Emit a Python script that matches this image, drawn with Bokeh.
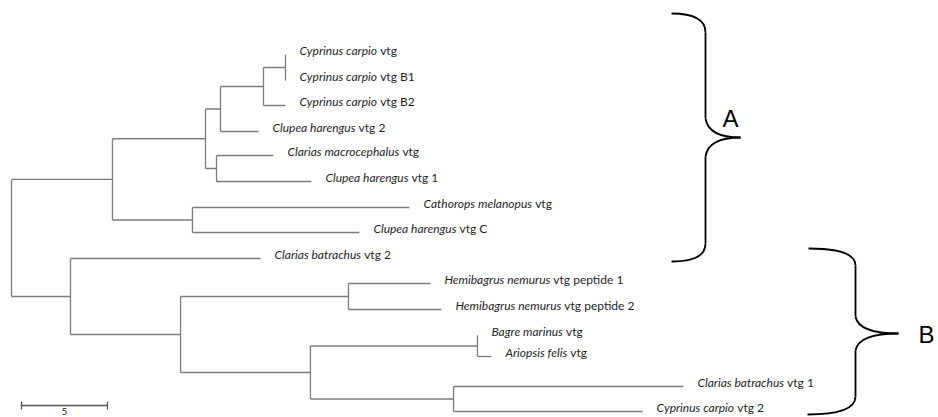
import glob
import subprocess
from bokeh.plotting import figure
from bokeh.models import Range1d, ColumnDataSource
from bokeh.core.properties import value
from bokeh.embed import file_html
from bokeh.resources import INLINE

# ---------------- data ----------------
# internal nodes: name, parent, branch length (distance units)
internal_name = ["A", "B", "A1", "A2", "A1a", "A1b", "Cyp", "Cyp12", "B2", "Hemi", "B3", "BA", "B4"]
internal_parent = ["root", "root", "A", "A", "A1", "A1", "A1a", "Cyp", "B", "B2", "B2", "B3", "B3"]
internal_length = [5.87, 3.43, 5.41, 4.65, 0.87, 0.64, 2.50, 1.28, 6.40, 9.76, 7.55, 9.71, 8.32]

# leaves (top to bottom)
leaf_species = ["Cyprinus carpio", "Cyprinus carpio", "Cyprinus carpio", "Clupea harengus",
                "Clarias macrocephalus", "Clupea harengus", "Cathorops melanopus", "Clupea harengus",
                "Clarias batrachus", "Hemibagrus nemurus", "Hemibagrus nemurus", "Bagre marinus",
                "Ariopsis felis", "Clarias batrachus", "Cyprinus carpio"]
leaf_suffix = ["vtg", "vtg B1", "vtg B2", "vtg 2", "vtg", "vtg 1", "vtg", "vtg C", "vtg 2",
               "vtg peptide 1", "vtg peptide 2", "vtg", "vtg", "vtg 1", "vtg 2"]
leaf_parent = ["Cyp12", "Cyp12", "Cyp", "A1a", "A1b", "A1b", "A2", "A2", "B",
               "Hemi", "Hemi", "BA", "BA", "B4", "B4"]
leaf_length = [0.0, 0.0, 1.28, 2.21, 3.31, 5.52, 12.62, 9.71, 11.05, 4.77, 5.41, 0.0, 0.81, 13.37, 10.99]
leaf_row = [54, 80, 105, 131, 155, 181, 207, 232, 258, 283, 309, 335, 356, 386, 411]

scale_length = 5
scale_label = "5"
clade_labels = ["A", "B"]

# ---------------- layout helpers ----------------
PX_PER_UNIT = 17.2
X0_PX = 11.0


def px2x(px):
    return (px - X0_PX) / PX_PER_UNIT


# ---------------- build tree geometry ----------------
parent = {}
length = {}
for n, pa, l in zip(internal_name, internal_parent, internal_length):
    parent[n] = pa
    length[n] = l
leaf_ids = ["leaf%d" % i for i in range(len(leaf_species))]
for n, pa, l in zip(leaf_ids, leaf_parent, leaf_length):
    parent[n] = pa
    length[n] = l

children = {}
for n, pa in parent.items():
    children.setdefault(pa, []).append(n)

xpos = {"root": 0.0}


def depth(n):
    if n in xpos:
        return xpos[n]
    xpos[n] = depth(parent[n]) + length[n]
    return xpos[n]


for n in parent:
    depth(n)

ypos = {}
for n, r in zip(leaf_ids, leaf_row):
    ypos[n] = r


def ycoord(n):
    if n in ypos:
        return ypos[n]
    ys = [ycoord(c) for c in children[n]]
    ypos[n] = (min(ys) + max(ys)) / 2.0
    return ypos[n]


ycoord("root")

hx0, hx1, hy = [], [], []
for n, pa in parent.items():
    hx0.append(xpos[pa]); hx1.append(xpos[n]); hy.append(ypos[n])
vx, vy0, vy1 = [], [], []
for n, ch in children.items():
    ys = [ypos[c] for c in ch]
    vx.append(xpos[n]); vy0.append(min(ys)); vy1.append(max(ys))

# ---------------- text width measurement ----------------
FONT = "Lato"
FSIZE = 12


def find_font_file(query, names):
    try:
        out = subprocess.run(["fc-match", "-f", "%{file}", query], capture_output=True, text=True, timeout=5).stdout
        if out and any(k.lower() in out.lower() for k in names):
            return out
    except Exception:
        pass
    for nm in names:
        hits = glob.glob("/usr/share/fonts/**/" + nm + "*", recursive=True)
        if hits:
            return hits[0]
    return None


measure = None
try:
    from PIL import ImageFont
    fpath = find_font_file("Lato:italic", ["Lato-Italic", "Lato-Regular"])
    if fpath:
        _f = ImageFont.truetype(fpath, FSIZE)
        measure = lambda s: _f.getlength(s)
except Exception:
    measure = None
if measure is None:
    measure = lambda s: len(s) * 0.5 * FSIZE

space_w = 0.26 * FSIZE
try:
    from PIL import ImageFont as _IF
    fr = find_font_file("Lato", ["Lato-Regular"])
    if fr:
        space_w = _IF.truetype(fr, FSIZE).getlength(" ")
except Exception:
    pass

tip_x = [xpos[n] for n in leaf_ids]
lab_y = [r - 4 for r in leaf_row]
sp_off = [14.0] * len(leaf_ids)
sf_off = [14.0 + measure(s) + space_w for s in leaf_species]

# ---------------- figure ----------------
W, H = 938, 417
p = figure(width=W, height=H, output_backend="svg", toolbar_location=None,
           x_range=Range1d(px2x(0), px2x(W)), y_range=Range1d(H, 0),
           min_border=0, outline_line_color=None, background_fill_color="white",
           border_fill_color="white")
p.axis.visible = False
p.grid.visible = False

LINE = "#7d7d7d"
p.segment(x0=hx0, y0=hy, x1=hx1, y1=hy, line_color=LINE, line_width=1.3)
p.segment(x0=vx, y0=vy0, x1=vx, y1=vy1, line_color=LINE, line_width=1.3)

TXT = "#1e1e1e"
src = ColumnDataSource(dict(x=tip_x, y=lab_y, sp=leaf_species, sf=leaf_suffix, o1=sp_off, o2=sf_off))
p.text(x="x", y="y", text="sp", x_offset="o1", source=src, text_font=value(FONT),
       text_font_style="italic", text_font_size="%dpx" % FSIZE, text_baseline="middle",
       text_color=TXT)
p.text(x="x", y="y", text="sf", x_offset="o2", source=src, text_font=value(FONT),
       text_font_style="normal", text_font_size="%dpx" % FSIZE, text_baseline="middle",
       text_color=TXT)

# scale bar
sb_x0 = px2x(21)
sb_y = 405
p.segment(x0=[sb_x0], y0=[sb_y], x1=[sb_x0 + scale_length], y1=[sb_y], line_color="#555555", line_width=1.3)
p.segment(x0=[sb_x0, sb_x0 + scale_length], y0=[sb_y - 4, sb_y - 4],
          x1=[sb_x0, sb_x0 + scale_length], y1=[sb_y + 4, sb_y + 4], line_color="#555555", line_width=1.3)
p.text(x=[sb_x0 + scale_length / 2], y=[sb_y + 6], text=[scale_label], text_font=value(FONT),
       text_font_size="10px", text_align="center", text_baseline="middle", text_color=TXT)

# clade braces (annotation shapes, in reference pixel coords)
brace_A = [((671, 13), (705, 13), (705, 32)), ((705, 118), (708, 137), (740, 137)),
           ((740, 137), (708, 137), (705, 156)), ((705, 243), (705, 261), (671, 261))]
brace_A_lines = [((705, 32), (705, 118)), ((705, 156), (705, 243))]
brace_B = [((808, 248), (855, 248), (855, 265)), ((855, 316), (858, 333), (898, 333)),
           ((898, 333), (858, 333), (855, 350)), ((855, 396), (855, 414), (807, 414))]
brace_B_lines = [((855, 265), (855, 316)), ((855, 350), (855, 396))]

for curves, lines in ((brace_A, brace_A_lines), (brace_B, brace_B_lines)):
    p.quadratic(x0=[px2x(c[0][0]) for c in curves], y0=[c[0][1] for c in curves],
                cx=[px2x(c[1][0]) for c in curves], cy=[c[1][1] for c in curves],
                x1=[px2x(c[2][0]) for c in curves], y1=[c[2][1] for c in curves],
                line_color="black", line_width=1.8)
    p.segment(x0=[px2x(l[0][0]) for l in lines], y0=[l[0][1] for l in lines],
              x1=[px2x(l[1][0]) for l in lines], y1=[l[1][1] for l in lines],
              line_color="black", line_width=1.8)

p.text(x=[px2x(722), px2x(918)], y=[117.5, 333.5], text=clade_labels,
       text_font=value("Liberation Sans"), text_font_size="24px", text_baseline="middle",
       text_color="black")

open("out.html", "w").write(file_html(p, INLINE))
